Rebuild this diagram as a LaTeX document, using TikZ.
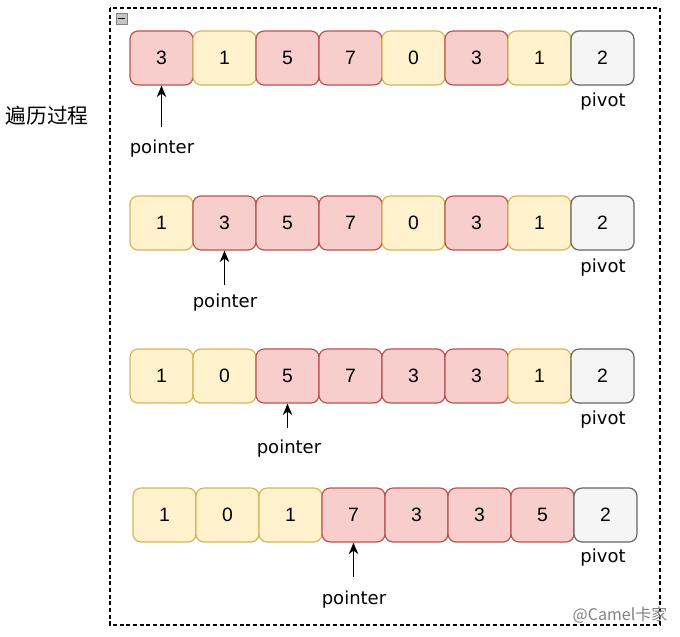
\documentclass[tikz,border=0pt]{standalone}
\usepackage{fontspec}
\setmainfont{Liberation Sans}
\newfontfamily\cjk{Noto Sans CJK SC}
\newfontfamily\hand{DejaVu Sans}
\usetikzlibrary{arrows.meta}

\definecolor{hifill}{HTML}{F8CECC}
\definecolor{hiline}{HTML}{B85450}
\definecolor{lofill}{HTML}{FFF2CC}
\definecolor{loline}{HTML}{D6B656}
\definecolor{pvfill}{HTML}{F5F5F5}
\definecolor{pvline}{HTML}{666666}

\tikzset{
  cell/.style={draw, rounded corners=6pt, line width=0.9pt, inner sep=0pt,
    minimum width=47.25pt, minimum height=40.5pt, font=\fontsize{14.5}{17}\selectfont},
  hi/.style={fill=hifill, draw=hiline},
  lo/.style={fill=lofill, draw=loline},
  piv/.style={fill=pvfill, draw=pvline},
  lbl/.style={inner sep=1pt, font=\hand\fontsize{13.5}{16}\selectfont},
  ptr/.style={-{Stealth[length=8.5pt, width=7pt, inset=2.5pt]}, line width=1pt}
}

\begin{document}
\begin{tikzpicture}[x=0.75pt, y=-0.75pt]
  \useasboundingbox (0,0) rectangle (680,636);
  % Ramme
  \draw[line width=1pt, dash pattern=on 3pt off 2pt] (110,8) rectangle (660,625);
  \draw[fill=gray!45, draw=gray] (116,13) rectangle (127,24);
  \draw[line width=1pt] (118,18.5) -- (125,18.5);
  \node[font=\cjk\fontsize{15.5}{18}\selectfont] (title) at (47,116) {遍历过程};

  % Rad 1
  \foreach \v/\s [count=\i] in {3/hi,1/lo,5/hi,7/hi,0/lo,3/hi,1/lo,2/piv}
    \node[cell,\s] (a\i) at ({98.5+63*\i},58) {\v};
  \node[lbl] (pv1) at (603,102) {pivot};
  \node[lbl] (p1) at (162,149) {pointer};
  \coordinate (t1) at (161.5,127);
  \draw[ptr] (t1) -- (a1.south);

  % Rad 2
  \foreach \v/\s [count=\i] in {1/lo,3/hi,5/hi,7/hi,0/lo,3/hi,1/lo,2/piv}
    \node[cell,\s] (b\i) at ({98.5+63*\i},223) {\v};
  \node[lbl] (pv2) at (603,268) {pivot};
  \node[lbl] (p2) at (225,303) {pointer};
  \coordinate (t2) at (224.5,285);
  \draw[ptr] (t2) -- (b2.south);

  % Rad 3
  \foreach \v/\s [count=\i] in {1/lo,0/lo,5/hi,7/hi,3/hi,3/hi,1/lo,2/piv}
    \node[cell,\s] (c\i) at ({98.5+63*\i},376) {\v};
  \node[lbl] (pv3) at (603,420) {pivot};
  \node[lbl] (p3) at (289,449) {pointer};
  \coordinate (t3) at (287.5,428);
  \draw[ptr] (t3) -- (c3.south);

  % Rad 4
  \foreach \v/\s [count=\i] in {1/lo,0/lo,1/lo,7/hi,3/hi,3/hi,5/hi,2/piv}
    \node[cell,\s] (d\i) at ({101.5+63*\i},515) {\v};
  \node[lbl] (pv4) at (603,558) {pivot};
  \node[lbl] (p4) at (354,600) {pointer};
  \coordinate (t4) at (353.5,577);
  \draw[ptr] (t4) -- (d4.south);

  % Vannmerke
  \node[font=\cjk\fontsize{12}{14}\selectfont, text=gray] (wm) at (620,615) {@Camel卡家};
\end{tikzpicture}
\end{document}
